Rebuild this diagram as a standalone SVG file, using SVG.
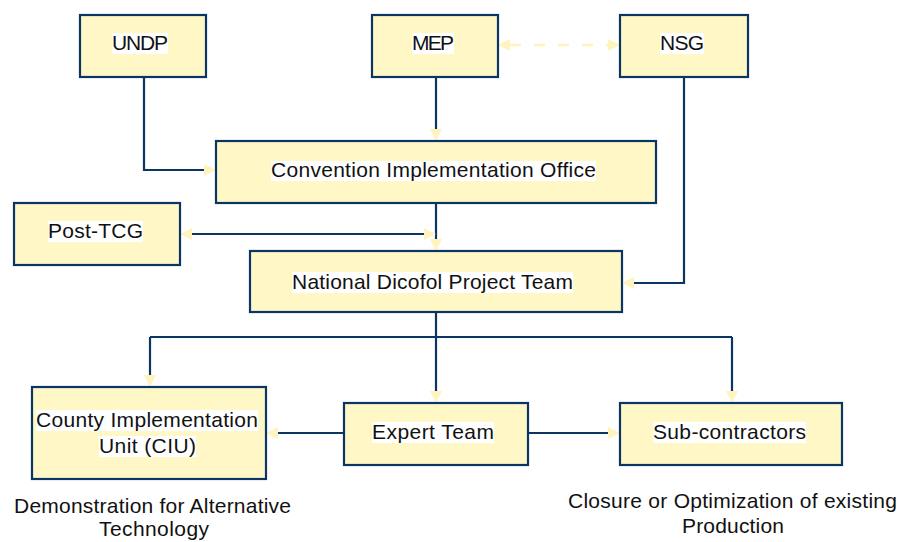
<svg xmlns="http://www.w3.org/2000/svg" width="901" height="542" viewBox="0 0 901 542">
<style>
.box{fill:#FFF7C6;stroke:#0A3665;stroke-width:2.2}
.hl{fill:#FFFFFF}
.t{font-family:"Liberation Sans",Arial,sans-serif;font-size:21px;fill:#111111}
.ln{fill:none;stroke:#0A3665;stroke-width:2.2}
.dash{fill:none;stroke:#FFF3BE;stroke-width:2.5;stroke-dasharray:11 13}
</style>
<defs>
<marker id="ah" markerUnits="userSpaceOnUse" markerWidth="12" markerHeight="12" viewBox="0 0 12 12" refX="0" refY="6" orient="auto-start-reverse">
<path d="M0,0 L12,6 L0,12 z" fill="#FFF3BE"/>
</marker>
</defs>
<rect width="901" height="542" fill="#FFFFFF"/>

<g id="connectors">
<path class="dash" d="M510,45 H608" marker-start="url(#ah)" marker-end="url(#ah)"/>
<path class="ln" d="M144,77 V170 H204" marker-end="url(#ah)"/>
<path class="ln" d="M436,77 V129" marker-end="url(#ah)"/>
<path class="ln" d="M436,203 V239" marker-end="url(#ah)"/>
<path class="ln" d="M192,234 H424" marker-start="url(#ah)" marker-end="url(#ah)"/>
<path class="ln" d="M684,77 V283 H634" marker-end="url(#ah)"/>
<path class="ln" d="M436,312 V337"/>
<path class="ln" d="M150,337 H732"/>
<path class="ln" d="M150,337 V375" marker-end="url(#ah)"/>
<path class="ln" d="M436,337 V391" marker-end="url(#ah)"/>
<path class="ln" d="M732,337 V391" marker-end="url(#ah)"/>
<path class="ln" d="M344,433 H278" marker-end="url(#ah)"/>
<path class="ln" d="M528,433 H608" marker-end="url(#ah)"/>
</g>

<g id="undp">
<rect class="box" x="80" y="15" width="126" height="62"/>
<rect class="hl" x="112" y="33" width="56" height="21"/>
<text class="t" x="112" y="50" textLength="56">UNDP</text>
</g>
<g id="mep">
<rect class="box" x="372" y="15" width="126" height="62"/>
<rect class="hl" x="412" y="33" width="42" height="21"/>
<text class="t" x="412" y="50" textLength="42">MEP</text>
</g>
<g id="nsg">
<rect class="box" x="620" y="15" width="128" height="62"/>
<rect class="hl" x="660" y="33" width="44" height="21"/>
<text class="t" x="660" y="50" textLength="44">NSG</text>
</g>
<g id="cio">
<rect class="box" x="216" y="141" width="440" height="62"/>
<rect class="hl" x="271" y="161" width="325" height="20"/>
<text class="t" x="271" y="177" textLength="325">Convention Implementation Office</text>
</g>
<g id="post-tcg">
<rect class="box" x="14" y="203" width="166" height="62"/>
<rect class="hl" x="48" y="221" width="95" height="21"/>
<text class="t" x="48" y="238" textLength="95">Post-TCG</text>
</g>
<g id="ndpt">
<rect class="box" x="250" y="251" width="372" height="61"/>
<rect class="hl" x="292" y="272" width="281" height="21"/>
<text class="t" x="292" y="289" textLength="281">National Dicofol Project Team</text>
</g>
<g id="ciu">
<rect class="box" x="32" y="387" width="234" height="92"/>
<rect class="hl" x="36" y="410" width="222" height="21"/>
<rect class="hl" x="99" y="436" width="97" height="21"/>
<text class="t" x="36" y="427" textLength="222">County Implementation</text>
<text class="t" x="99" y="453" textLength="97">Unit (CIU)</text>
</g>
<g id="expert">
<rect class="box" x="344" y="403" width="184" height="62"/>
<rect class="hl" x="372" y="422" width="122" height="21"/>
<text class="t" x="372" y="439" textLength="122">Expert Team</text>
</g>
<g id="sub">
<rect class="box" x="620" y="403" width="222" height="62"/>
<rect class="hl" x="653" y="422" width="153" height="21"/>
<text class="t" x="653" y="439" textLength="153">Sub-contractors</text>
</g>
<g id="notes">
<text class="t" x="14" y="513" textLength="277">Demonstration for Alternative</text>
<text class="t" x="99" y="536" textLength="110">Technology</text>
<text class="t" x="568" y="508" textLength="329">Closure or Optimization of existing</text>
<text class="t" x="682" y="533" textLength="102">Production</text>
</g>
</svg>
